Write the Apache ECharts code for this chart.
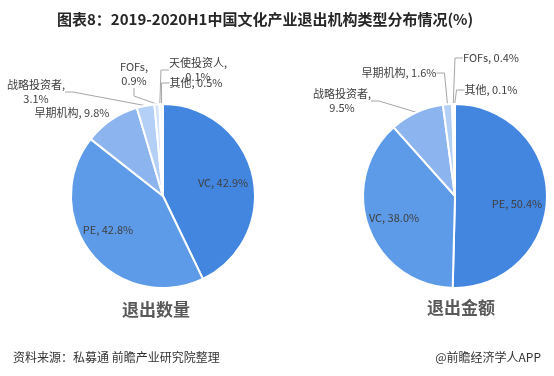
<!DOCTYPE html>
<html>
<head>
<meta charset="utf-8">
<script src="https://cdn.jsdelivr.net/npm/echarts@6/dist/echarts.min.js"></script>
<style>
html,body{margin:0;padding:0;background:#fff;}
#c{width:554px;height:376px;}
</style>
</head>
<body>
<div id="c"></div>
<script>
var titleText = '图表8：2019-2020H1中国文化产业退出机构类型分布情况(%)';
var sourceText = '资料来源：私募通 前瞻产业研究院整理';
var brandText = '@前瞻经济学人APP';

var countTitle = '退出数量';
var countNames = ['VC', 'PE', '早期机构', '战略投资者', 'FOFs', '天使投资人', '其他'];
var countValues = [42.9, 42.8, 9.8, 3.1, 0.9, 0.1, 0.5];

var amountTitle = '退出金额';
var amountNames = ['PE', 'VC', '战略投资者', '早期机构', 'FOFs', '其他'];
var amountValues = [50.4, 38.0, 9.5, 1.6, 0.4, 0.1];

var sliceColors = ['#4286e0', '#5d9be8', '#8cb5f0', '#b4d0f6', '#d2e3fa', '#e4eefc', '#eaf2fd'];
var FONT = "'Noto Sans CJK SC', 'Noto Sans', sans-serif";

// label placement (centre of label text), label line on/off, line break
var countLabelCfg = [
  {x: 223, y: 183, line: false},
  {x: 108, y: 230, line: false},
  {x: 72, y: 113, line: false},
  {x: 36, y: 92, line: true, br: true},
  {x: 134, y: 74, line: true, br: true},
  {x: 198, y: 70, line: true, br: true},
  {x: 196, y: 83, line: true}
];
var amountLabelCfg = [
  {x: 517, y: 204, line: false},
  {x: 394, y: 218, line: false},
  {x: 342, y: 101, line: true, br: true},
  {x: 399, y: 73, line: true},
  {x: 491, y: 58, line: true},
  {x: 491, y: 90, line: true}
];

function buildData(names, values, cfg) {
  return names.map(function (n, i) {
    var c = cfg[i];
    return {
      name: n,
      value: values[i],
      itemStyle: {color: sliceColors[i]},
      label: {
        formatter: n + ',' + (c.br ? '\n' : ' ') + values[i].toFixed(1) + '%'
      },
      labelLine: {show: c.line}
    };
  });
}

function makeLayout(cfg) {
  return function (p) {
    var c = cfg[p.dataIndex];
    return {x: c.x, y: c.y, align: 'center', verticalAlign: 'middle', hideOverlap: false, moveOverlap: null};
  };
}

function pieSeries(center, names, values, cfg) {
  return {
    type: 'pie',
    center: center,
    radius: [0, 92],
    startAngle: 90,
    clockwise: true,
    avoidLabelOverlap: false,
    animation: false,
    itemStyle: {borderColor: '#fff', borderWidth: 2},
    label: {
      show: true,
      position: 'outside',
      color: '#404040',
      fontSize: 11,
      fontFamily: FONT,
      lineHeight: 14,
      align: 'center'
    },
    labelLine: {
      show: true,
      length: 8,
      length2: 8,
      lineStyle: {color: '#a6a6a6', width: 1}
    },
    emphasis: {disabled: true},
    labelLayout: makeLayout(cfg),
    data: buildData(names, values, cfg)
  };
}

var chart = echarts.init(document.getElementById('c'), null, {renderer: 'canvas'});
chart.setOption({
  backgroundColor: '#ffffff',
  animation: false,
  title: [
    {text: titleText, left: 52, top: 7,
     textStyle: {fontSize: 15, fontWeight: 'bold', color: '#262626', fontFamily: FONT}},
    {text: countTitle, left: 151, top: 296, textAlign: 'center',
     textStyle: {fontSize: 17, fontWeight: 'bold', color: '#595959', fontFamily: FONT}},
    {text: amountTitle, left: 456, top: 294, textAlign: 'center',
     textStyle: {fontSize: 17, fontWeight: 'bold', color: '#595959', fontFamily: FONT}},
    {text: sourceText, left: 8, top: 346,
     textStyle: {fontSize: 12, fontWeight: 'normal', color: '#333', fontFamily: FONT}},
    {text: brandText, right: 8, top: 346,
     textStyle: {fontSize: 12, fontWeight: 'normal', color: '#333', fontFamily: FONT}}
  ],
  series: [
    pieSeries([163, 196], countNames, countValues, countLabelCfg),
    pieSeries([455, 196], amountNames, amountValues, amountLabelCfg)
  ]
});
</script>
</body>
</html>
